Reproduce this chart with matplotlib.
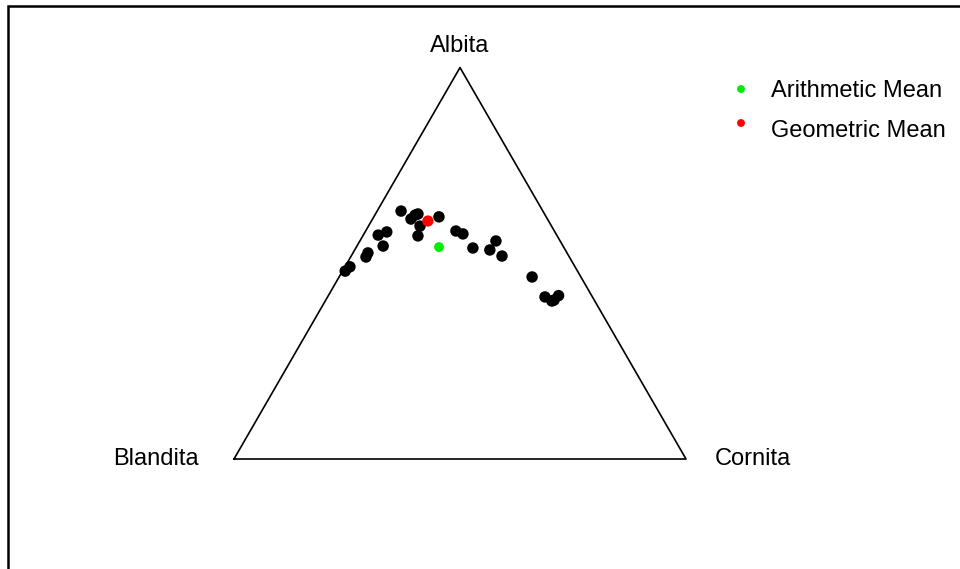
import numpy as np
import matplotlib
matplotlib.use("Agg")
import matplotlib.pyplot as plt

plt.rcParams['font.family'] = ['Liberation Sans', 'DejaVu Sans']

parts = ["Albita", "Blandita", "Cornita"]

# compositions (proportions)
albita = [0.634, 0.613, 0.623, 0.595, 0.570, 0.618, 0.572, 0.580, 0.544, 0.526,
          0.516, 0.491, 0.480, 0.583, 0.575, 0.539, 0.557, 0.534, 0.519, 0.465,
          0.414, 0.406, 0.422, 0.626, 0.404]
blandita = [0.314, 0.302, 0.288, 0.291, 0.308, 0.237, 0.395, 0.372, 0.398, 0.440,
            0.450, 0.498, 0.514, 0.218, 0.206, 0.202, 0.142, 0.167, 0.148, 0.108,
            0.105, 0.089, 0.074, 0.280, 0.095]
cornita = [0.053, 0.085, 0.089, 0.114, 0.122, 0.144, 0.033, 0.048, 0.058, 0.033,
           0.034, 0.011, 0.006, 0.200, 0.219, 0.259, 0.301, 0.299, 0.334, 0.427,
           0.481, 0.505, 0.515, 0.094, 0.502]

arith_mean = [0.542, 0.276, 0.183]   # Albita, Blandita, Cornita
geo_mean = [0.608, 0.267, 0.125]

legend_labels = ["Arithmetic Mean", "Geometric Mean"]
legend_colors = ["#00ee00", "#ff0000"]

H = np.sqrt(3) / 2


def tern(a, b, c):
    a = np.asarray(a, float); b = np.asarray(b, float); c = np.asarray(c, float)
    s = a + b + c
    a, b, c = a / s, b / s, c / s
    return c + a / 2, a * H


W, Hpx = 960, 569
fig = plt.figure(figsize=(W / 100, Hpx / 100), dpi=100)
ax = fig.add_axes([0, 0, 1, 1])
scale = 452.0
x0px, y0px = 234.0, 459.0
ax.set_xlim(-x0px / scale, (W - x0px) / scale)
ax.set_ylim(-(Hpx - y0px) / scale, y0px / scale)
ax.axis('off')

# outer frame (partially visible)
fx = (8 - x0px) / scale
fy = (y0px - 6) / scale
ax.plot([fx, fx, 5], [-5, fy, fy], color='black', lw=1.8, solid_joinstyle='miter')

# triangle
tx = [0, 1, 0.5, 0]
ty = [0, 0, H, 0]
ax.plot(tx, ty, color='black', lw=1.2)

# vertex labels (baselines)
ax.text(0.5, (y0px - 52) / scale, parts[0], ha='center', va='baseline', fontsize=17)
ax.text(-35 / scale, (y0px - 465) / scale, parts[1], ha='right', va='baseline', fontsize=17)
ax.text(1 + 29 / scale, (y0px - 465) / scale, parts[2], ha='left', va='baseline', fontsize=17)

# data
xs, ys = tern(albita, blandita, cornita)
ax.scatter(xs, ys, s=68, color='black', edgecolors='none', zorder=3)

mx, my = tern(*arith_mean)
ax.scatter([mx], [my], s=50, color=legend_colors[0], edgecolors='none', zorder=4)
gx, gy = tern(*geo_mean)
ax.scatter([gx], [gy], s=65, color=legend_colors[1], edgecolors='none', zorder=4)

# legend
leg_y = [89, 123]
txt_base = [97, 137]
for lab, col, yd, yt in zip(legend_labels, legend_colors, leg_y, txt_base):
    ax.scatter([741 / W], [1 - yd / Hpx], s=32, color=col, edgecolors='none',
               transform=fig.transFigure, clip_on=False)
    fig.text(771 / W, 1 - yt / Hpx, lab, ha='left', va='baseline', fontsize=17)

fig.savefig("out.png", dpi=100)
